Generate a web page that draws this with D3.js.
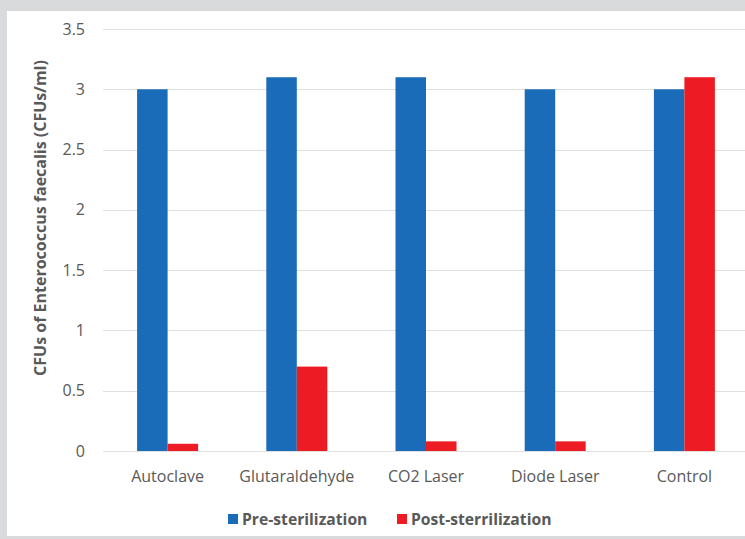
<!DOCTYPE html>
<html>
<head>
<meta charset="utf-8">
<script src="https://cdn.jsdelivr.net/npm/d3@7"></script>
<style>
  html, body { margin: 0; padding: 0; background: #d9dadb; }
  svg { display: block; }
  text { font-family: "Open Sans", "Noto Sans", sans-serif; }
</style>
</head>
<body>
<svg id="chart" width="745" height="539"></svg>
<script>
// Bacterial counts before and after each sterilization method
const categories = ["Autoclave", "Glutaraldehyde", "CO2 Laser", "Diode Laser", "Control"];
const seriesNames = ["Pre-sterilization", "Post-sterrilization"];
const preValues = [3.0, 3.1, 3.1, 3.0, 3.0];
const postValues = [0.06, 0.7, 0.08, 0.08, 3.1];
const yTicks = [0, 0.5, 1, 1.5, 2, 2.5, 3, 3.5];
const yTitle = "CFUs of Enterococcus faecalis (CFUs/ml)";

const colors = ["#1a6bb8", "#ed1c24"];
const textColor = "#595959";

const svg = d3.select("#chart");

// white chart panel inside the grey frame
svg.append("rect").attr("x", 7).attr("y", 11).attr("width", 745).attr("height", 525).attr("fill", "#ffffff");

const plot = { left: 103, right: 749, top: 29, bottom: 451 };

const x = d3.scaleBand().domain(categories).range([plot.left, plot.right]).paddingInner(0).paddingOuter(0);
const groupWidth = 61;
const xSub = d3.scaleBand().domain([0, 1]).range([0, groupWidth]);
const y = d3.scaleLinear().domain([0, 3.5]).range([plot.bottom, plot.top]);

// horizontal gridlines
svg.append("g").selectAll("line").data(yTicks).join("line")
  .attr("x1", plot.left).attr("x2", plot.right)
  .attr("y1", d => Math.round(y(d)) + 0.5).attr("y2", d => Math.round(y(d)) + 0.5)
  .attr("stroke", "#e0e0e0").attr("stroke-width", 1.2);

// y axis labels
const yAxis = d3.axisLeft(y).tickValues(yTicks).tickSize(0).tickPadding(0).tickFormat(d => String(d));
const gy = svg.append("g").attr("transform", `translate(${85},0)`).call(yAxis);
gy.select(".domain").remove();
gy.selectAll("text").attr("fill", textColor).attr("font-size", 16).style("font-family", '"Open Sans", sans-serif');

// bars
const rows = categories.map((c, i) => ({ cat: c, vals: [preValues[i], postValues[i]] }));
const groups = svg.append("g").selectAll("g").data(rows).join("g")
  .attr("transform", d => `translate(${x(d.cat) + x.bandwidth() / 2 - groupWidth / 2},0)`);
groups.selectAll("rect").data(d => d.vals.map((v, k) => ({ v, k }))).join("rect")
  .attr("x", d => xSub(d.k))
  .attr("width", xSub.bandwidth())
  .attr("y", d => y(d.v))
  .attr("height", d => y(0) - y(d.v))
  .attr("fill", d => colors[d.k]);

// category axis labels
const xAxis = d3.axisBottom(x).tickSize(0).tickPadding(0);
const gx = svg.append("g").attr("transform", `translate(0,${471})`).call(xAxis);
gx.select(".domain").remove();
gx.selectAll("text").attr("fill", textColor).attr("font-size", 16).attr("dy", "0.7em").style("font-family", '"Open Sans", sans-serif');

// y axis title
svg.append("text")
  .attr("transform", `translate(46,${218}) rotate(-90)`)
  .attr("text-anchor", "middle")
  .attr("fill", textColor)
  .attr("font-size", 16)
  .attr("font-weight", "bold")
  .text(yTitle);

// legend
const legendItems = [{ name: seriesNames[0], x: 228 }, { name: seriesNames[1], x: 397 }];
const lg = svg.append("g").selectAll("g").data(legendItems).join("g")
  .attr("transform", d => `translate(${d.x},${519})`);
lg.append("rect").attr("x", 0).attr("y", -5).attr("width", 10).attr("height", 10)
  .attr("fill", (d, i) => colors[i]);
lg.append("text").attr("x", 14).attr("y", 0).attr("dy", "0.35em")
  .attr("fill", textColor).attr("font-size", 15.7).attr("font-weight", "bold")
  .text(d => d.name);
</script>
</body>
</html>
